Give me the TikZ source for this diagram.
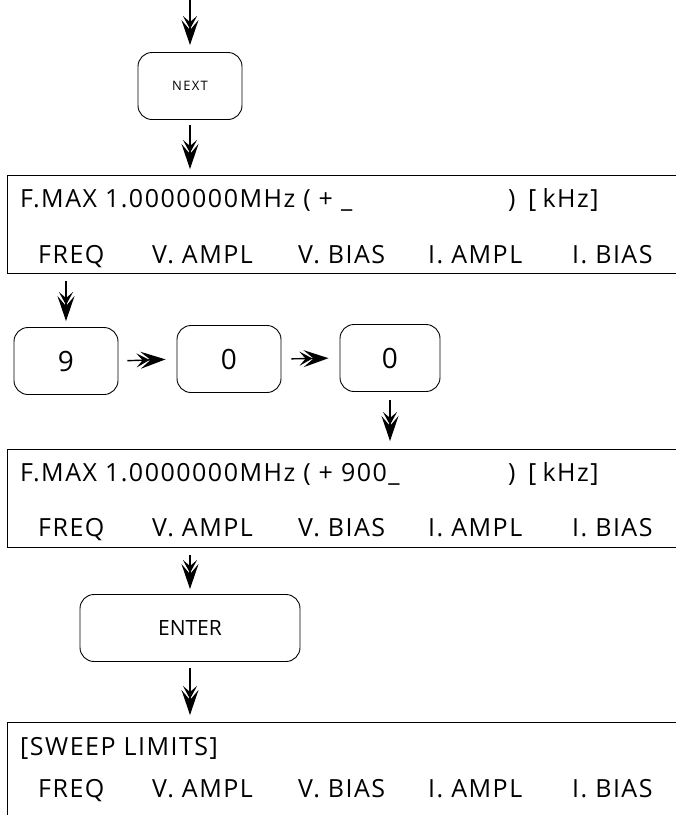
\documentclass[tikz,border=0pt]{standalone}
\usepackage{fontspec}
\setmainfont{Open Sans}
\usetikzlibrary{arrows.meta}
\begin{document}
\begin{tikzpicture}[x=1pt,y=-1pt,
  keybox/.style={draw, line width=0.9pt, rounded corners=14pt, inner sep=0pt, minimum height=67pt},
  dispbox/.style={draw, line width=0.9pt, anchor=north west, minimum width=720pt, minimum height=98pt, inner sep=0pt},
  disp/.style={font=\fontsize{25}{25}\selectfont\addfontfeature{LetterSpace=6}, anchor=base west, inner sep=0pt},
  flow/.style={line width=1.4pt, -{Stealth[length=13pt,width=14pt,inset=6pt,sep=-9pt]Stealth[length=25pt,width=17pt,inset=10pt]}},
]
\useasboundingbox (0,0) rectangle (676,815);
\clip (0,0) rectangle (676,815);

% keys
\node[keybox, minimum width=104pt, font=\fontsize{13}{13}\selectfont\addfontfeature{LetterSpace=10}] (next) at (190,86) {NEXT};
\node[keybox, minimum width=104pt, font=\fontsize{28}{28}\selectfont] (k9) at (66,361) {9};
\node[keybox, minimum width=104pt, font=\fontsize{28}{28}\selectfont] (k0a) at (229,359) {0};
\node[keybox, minimum width=100pt, font=\fontsize{28}{28}\selectfont] (k0b) at (390,358) {0};
\node[keybox, minimum width=220pt, font=\fontsize{21}{21}\selectfont] (enter) at (190,628) {ENTER};

% displays
\node[dispbox] (d1) at (7,175) {};
\node[dispbox] (d2) at (7,449) {};
\node[dispbox] (d3) at (7,722) {};

% display texts
\node[disp] (d1a) at (20,207) {F.MAX 1.0000000MHz ( + \_};
\node[disp] (d1b) at (508,207) {)\hspace{0.5em}[\hspace{0.25em}kHz]};
\node[disp] (d1c) at (38,263) {FREQ};
\node[disp] (d1d) at (152,263) {V. AMPL};
\node[disp] (d1e) at (298,263) {V. BIAS};
\node[disp] (d1f) at (428,263) {I. AMPL};
\node[disp] (d1g) at (572,263) {I. BIAS};

\node[disp] (d2a) at (20,481) {F.MAX 1.0000000MHz ( + 900\_};
\node[disp] (d2b) at (508,481) {)\hspace{0.5em}[\hspace{0.25em}kHz]};
\node[disp] (d2c) at (38,536) {FREQ};
\node[disp] (d2d) at (152,536) {V. AMPL};
\node[disp] (d2e) at (298,536) {V. BIAS};
\node[disp] (d2f) at (428,536) {I. AMPL};
\node[disp] (d2g) at (572,536) {I. BIAS};

\node[disp] (d3a) at (20,755) {[SWEEP LIMITS]};
\node[disp] (d3c) at (38,797) {FREQ};
\node[disp] (d3d) at (152,797) {V. AMPL};
\node[disp] (d3e) at (298,797) {V. BIAS};
\node[disp] (d3f) at (428,797) {I. AMPL};
\node[disp] (d3g) at (572,797) {I. BIAS};

% connectors
\coordinate (start) at (190,0);
\draw[flow, shorten >=7pt] (start) -- (next.north);
\draw[flow, shorten <=5pt, shorten >=6pt] (next.south) -- (next.south |- d1.north);
\draw[flow, shorten <=7pt, shorten >=6pt] (k9.north |- d1.south) -- (k9.north);
\draw[flow, shorten <=9pt, shorten >=11pt] (k9.east) -- (k0a.west);
\draw[flow, shorten <=10pt, shorten >=11pt] (k0a.east) -- (k0b.west);
\draw[flow, shorten <=8pt, shorten >=8pt] (k0b.south) -- (k0b.south |- d2.north);
\draw[flow, shorten <=7pt, shorten >=5pt] (enter.north |- d2.south) -- (enter.north);
\draw[flow, shorten <=6pt, shorten >=7pt] (enter.south) -- (enter.south |- d3.north);
\end{tikzpicture}
\end{document}
